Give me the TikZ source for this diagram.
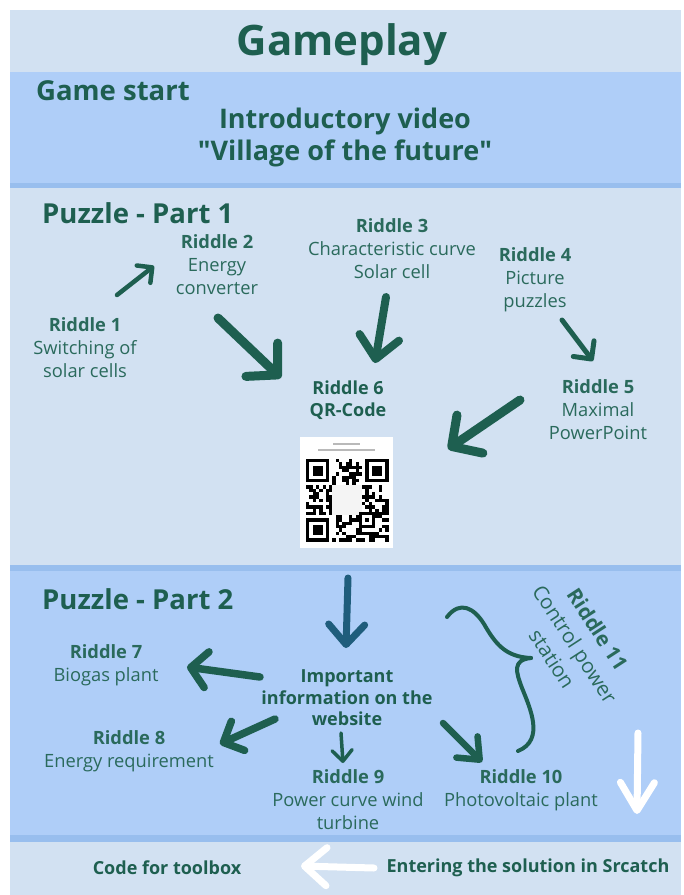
\documentclass[tikz,border=0pt]{standalone}
\usepackage{fontspec}
\setmainfont{Open Sans}
\usetikzlibrary{arrows.meta}
\definecolor{bglight}{HTML}{D2E1F2}
\definecolor{bgblue}{HTML}{AFCEF8}
\definecolor{bgline}{HTML}{98BEEE}
\definecolor{ink}{HTML}{1E5F50}
\definecolor{inktext}{HTML}{2A6A5C}
\definecolor{inkblue}{HTML}{1F5D7C}
\tikzset{
  title/.style={font=\bfseries\fontsize{42}{46}\selectfont, text=ink, inner sep=0pt},
  section/.style={font=\bfseries\fontsize{27.5}{32}\selectfont, text=ink, inner sep=0pt},
  intro/.style={font=\bfseries\fontsize{27}{32}\selectfont, text=ink, inner sep=0pt, align=center},
  riddle/.style={font=\fontsize{18.3}{23}\selectfont, text=inktext, inner sep=0pt, align=center},
  riddlebold/.style={riddle, font=\bfseries\fontsize{18}{21.5}\selectfont, text=ink},
  footer/.style={font=\bfseries\fontsize{18}{22}\selectfont, text=ink, inner sep=0pt},
  marker/.style={draw=#1, line cap=round, line join=round},
  barb/.style n args={2}{-{Straight Barb[length=#1, width=#2, round]}},
}
\begin{document}
\begin{tikzpicture}[x=1pt, y=-1pt]
\useasboundingbox (0,0) rectangle (684,895);
\fill[white] (0,0) rectangle (684,895);

% background bands
\fill[bglight] (10,10) rectangle (681,72);
\fill[bgblue]  (10,72) rectangle (681,183);
\fill[bgline]  (10,183) rectangle (681,188);
\fill[bglight] (10,188) rectangle (681,565);
\fill[bgline]  (10,565) rectangle (681,571);
\fill[bgblue]  (10,571) rectangle (681,835);
\fill[bgline]  (10,835) rectangle (681,842);
\fill[bglight] (10,842) rectangle (681,895);

% headings
\node[title] (gameplay) at (342,45) {Gameplay};
\node[section, anchor=west] (start) at (36,91) {Game start};
\node[intro] (video) at (345,137) {Introductory video\\\textquotedbl Village of the future\textquotedbl};
\node[section, anchor=west] (part1) at (42,213) {Puzzle - Part 1};
\node[section, anchor=west] (part2) at (42,599) {Puzzle - Part 2};

% riddles of part 1
\node[riddle] (r2) at (217,265) {\textbf{Riddle 2}\\Energy\\converter};
\node[riddle] (r3) at (392,249) {\textbf{Riddle 3}\\Characteristic curve\\Solar cell};
\node[riddle] (r4) at (535,280) {\textbf{Riddle 4}\\Picture\\puzzles};
\node[riddle] (r1) at (85,348) {\textbf{Riddle 1}\\Switching of\\solar cells};
\node[riddlebold] (r6) at (348,400) {Riddle 6\\QR-Code};
\node[riddle] (r5) at (598,410) {\textbf{Riddle 5}\\Maximal\\PowerPoint};

% QR code card
\fill[white] (300,437) rectangle (393,548);
\fill[gray!55] (333,443) rectangle (360,445);
\fill[gray!55] (318,449) rectangle (375,451);
\begin{scope}[shift={(306,459)}]
  \fill[gray!9] (26.4,26.4) rectangle (56.1,56.1);
  \pgfmathsetseed{4711}
  \foreach \i in {0,...,24}{
    \foreach \j in {0,...,24}{
      \pgfmathtruncatemacro{\qoff}{((\i<8)&&(\j<8)) || ((\i>16)&&(\j<8)) || ((\i<8)&&(\j>16)) || ((\i>7)&&(\i<17)&&(\j>7)&&(\j<17)) || ((\i>15)&&(\i<21)&&(\j>15)&&(\j<21))}
      \pgfmathtruncatemacro{\qon}{rnd<0.52}
      \ifnum\qoff=0 \ifnum\qon=1
        \fill[black] ({3.3*\i},{3.3*\j}) rectangle ++(3.35,3.35);
      \fi\fi
    }
  }
  % finder patterns
  \foreach \fx/\fy in {0/0, 18/0, 0/18}{
    \fill[black] ({3.3*\fx},{3.3*\fy}) rectangle ++(23.1,23.1);
    \fill[white] ({3.3*\fx+3.3},{3.3*\fy+3.3}) rectangle ++(16.5,16.5);
    \fill[black] ({3.3*\fx+6.6},{3.3*\fy+6.6}) rectangle ++(9.9,9.9);
  }
  % alignment pattern
  \fill[black] (52.8,52.8) rectangle ++(16.5,16.5);
  \fill[white] (56.1,56.1) rectangle ++(9.9,9.9);
  \fill[black] (59.4,59.4) rectangle ++(3.3,3.3);
\end{scope}

% arrows of part 1
\coordinate (a1s) at (117,295); \coordinate (a1e) at (154,266);
\coordinate (a2s) at (218,318); \coordinate (a2e) at (281,378);
\coordinate (a3s) at (386,297); \coordinate (a3e) at (375,363);
\coordinate (a4s) at (562,320); \coordinate (a4e) at (593,361);
\coordinate (a5s) at (520,400); \coordinate (a5e) at (448,449);
\draw[marker=ink, line width=4.5pt, barb={11pt}{22pt}] (a1s) -- (a1e);
\draw[marker=ink, line width=9pt, barb={22pt}{46pt}] (a2s) -- (a2e);
\draw[marker=ink, line width=8pt, barb={22pt}{40pt}] (a3s) -- (a3e);
\draw[marker=ink, line width=5pt, barb={13pt}{26pt}] (a4s) -- (a4e);
\draw[marker=ink, line width=9pt, barb={22pt}{46pt}] (a5s) -- (a5e);

% part 2
\node[riddlebold] (web) at (347,698) {Important\\information on the\\website};
\node[riddle] (r7) at (106,665) {\textbf{Riddle 7}\\Biogas plant};
\node[riddle] (r8) at (129,751) {\textbf{Riddle 8}\\Energy requirement};
\node[riddle] (r9) at (348,800) {\textbf{Riddle 9}\\Power curve wind\\turbine};
\node[riddle] (r10) at (521,790) {\textbf{Riddle 10}\\Photovoltaic plant};
\node[riddle, font=\fontsize{20.5}{27}\selectfont, rotate=-57] (r11) at (575,644) {\textbf{Riddle 11}\\Control power\\station};

\coordinate (b0s) at (348,578); \coordinate (b0e) at (346,648);
\coordinate (b7s) at (260,677); \coordinate (b7e) at (187,667);
\coordinate (b8s) at (275,719); \coordinate (b8e) at (220,744);
\coordinate (b9s) at (341,733); \coordinate (b9e) at (343,763);
\coordinate (b10s) at (443,723); \coordinate (b10e) at (482,762);
\draw[marker=inkblue, line width=7pt, barb={20pt}{36pt}] (b0s) -- (b0e);
\draw[marker=ink, line width=7.5pt, barb={16pt}{36pt}] (b7s) -- (b7e);
\draw[marker=ink, line width=7.5pt, barb={16pt}{32pt}] (b8s) -- (b8e);
\draw[marker=ink, line width=3.5pt, barb={11pt}{20pt}] (b9s) -- (b9e);
\draw[marker=ink, line width=6.5pt, barb={18pt}{30pt}] (b10s) -- (b10e);

% brace grouping the riddles for riddle 11
\draw[marker=ink, line width=4pt]
  (447,617) .. controls (460,600) and (474,608) .. (484,624)
  .. controls (495,643) and (505,657) .. (531,658);
\draw[marker=ink, line width=4pt]
  (531,658) .. controls (512,660) and (516,672) .. (522,688)
  .. controls (530,708) and (545,740) .. (518,751);

% white arrow into the last step
\coordinate (wds) at (638,733); \coordinate (wde) at (637,814);
\draw[marker=white, line width=7pt, barb={28pt}{34pt}] (wds) -- (wde);

% footer
\node[footer] (code) at (167,868) {Code for toolbox};
\node[footer] (enter) at (528,868) {Entering the solution in Srcatch};
\coordinate (wls) at (374,868); \coordinate (wle) at (301,866);
\draw[marker=white, line width=7pt, barb={22pt}{38pt}] (wls) -- (wle);
\end{tikzpicture}
\end{document}
